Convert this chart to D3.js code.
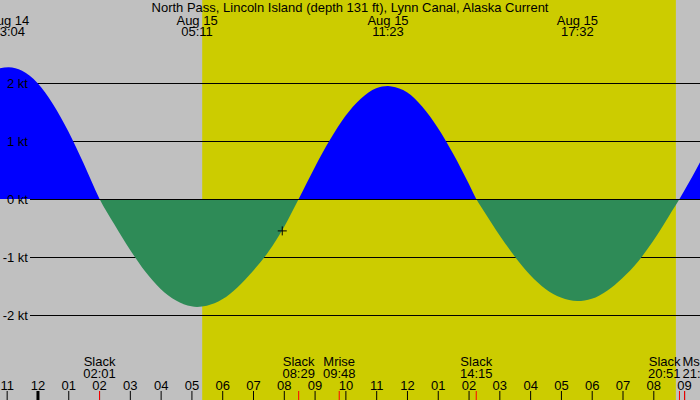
<!DOCTYPE html>
<html><head><meta charset="utf-8">
<script src="https://cdn.jsdelivr.net/npm/d3@7"></script>
<style>
html,body{margin:0;padding:0;background:#c0c0c0;}
svg{display:block;}
text{font-family:"Liberation Sans",Arial,Helvetica,sans-serif;font-size:13px;fill:#000;}
</style></head><body>
<svg id="chart" width="700" height="400"></svg>
<script>
const title = "North Pass, Lincoln Island (depth 131 ft), Lynn Canal, Alaska Current";
const viewStart = "2023-08-14 22:47", viewEnd = "2023-08-15 21:31";
const sunrise = "2023-08-15 05:21", sunset = "2023-08-15 20:44";

const flowTimes = [
  "2023-08-14 22:45","2023-08-14 23:04","2023-08-14 23:30","2023-08-15 00:00","2023-08-15 00:30",
  "2023-08-15 01:00","2023-08-15 01:30","2023-08-15 02:01","2023-08-15 02:30","2023-08-15 03:00",
  "2023-08-15 03:30","2023-08-15 04:00","2023-08-15 04:30","2023-08-15 05:00","2023-08-15 05:11",
  "2023-08-15 05:30","2023-08-15 06:00","2023-08-15 06:30","2023-08-15 07:00","2023-08-15 07:30",
  "2023-08-15 08:00","2023-08-15 08:29","2023-08-15 09:00","2023-08-15 09:30","2023-08-15 10:00",
  "2023-08-15 10:30","2023-08-15 11:00","2023-08-15 11:23","2023-08-15 11:30","2023-08-15 12:00",
  "2023-08-15 12:30","2023-08-15 13:00","2023-08-15 13:30","2023-08-15 14:00","2023-08-15 14:15",
  "2023-08-15 14:30","2023-08-15 15:00","2023-08-15 15:30","2023-08-15 16:00","2023-08-15 16:30",
  "2023-08-15 17:00","2023-08-15 17:32","2023-08-15 18:00","2023-08-15 18:30","2023-08-15 19:00",
  "2023-08-15 19:30","2023-08-15 20:00","2023-08-15 20:30","2023-08-15 20:51","2023-08-15 21:00",
  "2023-08-15 21:15","2023-08-15 21:35"];
const flowKnots = [
  2.25, 2.27, 2.21, 2.00, 1.64,
  1.17, 0.61, 0.00, -0.44, -0.87,
  -1.25, -1.55, -1.75, -1.85, -1.86,
  -1.84, -1.73, -1.52, -1.24, -0.91,
  -0.49, 0.00, 0.54, 1.02, 1.43,
  1.73, 1.91, 1.95, 1.94, 1.84,
  1.59, 1.23, 0.78, 0.27, 0.00,
  -0.21, -0.62, -0.99, -1.31, -1.55,
  -1.70, -1.76, -1.72, -1.58, -1.36,
  -1.08, -0.72, -0.30, 0.00, 0.14,
  0.37, 0.70];

const gridKnots = [-2, -1, 0, 1, 2];
const gridLabels = ["-2 kt", "-1 kt", "0 kt", "1 kt", "2 kt"];

const maxTimes = ["2023-08-14 23:04", "2023-08-15 05:11", "2023-08-15 11:23", "2023-08-15 17:32"];

const eventTimes = ["2023-08-15 02:01", "2023-08-15 08:29", "2023-08-15 09:48", "2023-08-15 14:15", "2023-08-15 20:51", "2023-08-15 21:01"];
const eventNames = ["Slack", "Slack", "Mrise", "Slack", "Slack", "Mset"];

const hourTicks = [
  "2023-08-14 23:00","2023-08-15 00:00","2023-08-15 01:00","2023-08-15 02:00","2023-08-15 03:00",
  "2023-08-15 04:00","2023-08-15 05:00","2023-08-15 06:00","2023-08-15 07:00","2023-08-15 08:00",
  "2023-08-15 09:00","2023-08-15 10:00","2023-08-15 11:00","2023-08-15 12:00","2023-08-15 13:00",
  "2023-08-15 14:00","2023-08-15 15:00","2023-08-15 16:00","2023-08-15 17:00","2023-08-15 18:00",
  "2023-08-15 19:00","2023-08-15 20:00","2023-08-15 21:00"];
const hourLabels = ["11","12","01","02","03","04","05","06","07","08","09","10","11","12","01","02","03","04","05","06","07","08","09"];

const nowTime = "2023-08-15 07:57", nowKnots = -0.55;

// ---------------------------------------------------------------
const parse = d3.timeParse("%Y-%m-%d %H:%M");
const W = 700, H = 400;
const svg = d3.select("#chart");

const x = d3.scaleTime().domain([parse(viewStart), parse(viewEnd)]).range([0, W]);
const y = d3.scaleLinear().domain([-2, 2]).range([315, 83]);

const flow = flowTimes.map((t, i) => ({t: parse(t), v: flowKnots[i]}));

// background and daylight
svg.append("rect").attr("x", 0).attr("y", 0).attr("width", W).attr("height", H).attr("fill", "#c0c0c0");
svg.append("rect")
  .attr("x", x(parse(sunrise))).attr("y", 0)
  .attr("width", x(parse(sunset)) - x(parse(sunrise))).attr("height", H)
  .attr("fill", "#cccc00");

// grid lines
svg.append("g").selectAll("line").data(gridKnots).join("line")
  .attr("x1", 30).attr("x2", W)
  .attr("y1", d => Math.round(y(d)) + 0.5).attr("y2", d => Math.round(y(d)) + 0.5)
  .attr("stroke", "#000").attr("stroke-width", 1);

// clip paths
const defs = svg.append("defs");
defs.append("clipPath").attr("id", "above").append("rect")
  .attr("x", 0).attr("y", 0).attr("width", W).attr("height", y(0));
defs.append("clipPath").attr("id", "below").append("rect")
  .attr("x", 0).attr("y", y(0)).attr("width", W).attr("height", H - y(0));

const area = d3.area()
  .x(d => x(d.t)).y0(y(0)).y1(d => y(d.v))
  .curve(d3.curveMonotoneX);

svg.append("path").datum(flow).attr("d", area).attr("fill", "#0000ff").attr("clip-path", "url(#above)");
svg.append("path").datum(flow).attr("d", area).attr("fill", "#2e8b57").attr("clip-path", "url(#below)");

// zero line over fills
svg.append("line").attr("x1", 30).attr("x2", W)
  .attr("y1", Math.round(y(0)) + 0.5).attr("y2", Math.round(y(0)) + 0.5)
  .attr("stroke", "#000");

// y labels
svg.append("g").selectAll("text").data(gridKnots).join("text")
  .attr("x", 28).attr("y", d => y(d)).attr("dy", "0.36em")
  .attr("text-anchor", "end")
  .text((d, i) => gridLabels[i]);

// title
svg.append("text").attr("x", 350).attr("y", 12).attr("text-anchor", "middle").text(title);

// max current labels at top
const fmtDate = d3.timeFormat("%b %d"), fmtTime = d3.timeFormat("%H:%M");
const topG = svg.append("g").selectAll("g").data(maxTimes.map(parse)).join("g")
  .attr("transform", d => `translate(${x(d)},0)`);
topG.append("text").attr("y", 24.5).attr("text-anchor", "middle").text(d => fmtDate(d));
topG.append("text").attr("y", 36).attr("text-anchor", "middle").text(d => fmtTime(d));

// event labels at bottom
const ev = eventTimes.map((t, i) => ({t: parse(t), name: eventNames[i]}));
ev.forEach(e => { e.x = x(e.t); e.anchor = "middle"; e.lx = e.x; });
for (let i = 0; i < ev.length - 1; i++) {
  if (ev[i + 1].x - ev[i].x < 25) {
    const mid = (ev[i].x + ev[i + 1].x) / 2;
    ev[i].anchor = "end"; ev[i].lx = mid - 1.5;
    ev[i + 1].anchor = "start"; ev[i + 1].lx = mid + 0.5;
  }
}
const evG = svg.append("g").selectAll("g").data(ev).join("g");
evG.append("text").attr("x", d => d.lx).attr("y", 366).attr("text-anchor", d => d.anchor).text(d => d.name);
evG.append("text").attr("x", d => d.lx).attr("y", 378).attr("text-anchor", d => d.anchor).text(d => fmtTime(d.t));

// hour axis
const axis = d3.axisTop(x)
  .tickValues(hourTicks.map(parse))
  .tickFormat((d, i) => hourLabels[i])
  .tickSize(9).tickPadding(1);
const ax = svg.append("g").attr("transform", `translate(0,${H})`).call(axis);
ax.select(".domain").remove();
ax.attr("font-family", null).attr("font-size", null);
ax.selectAll("text")
  .style("font-family", "'Liberation Sans',Arial,sans-serif").style("font-size", "13px").attr("fill", "#000");
ax.selectAll(".tick line").attr("stroke", "#000")
  .attr("stroke-width", d => d.getHours() === 0 ? 3 : 1);

// red event ticks
svg.append("g").selectAll("line").data(ev).join("line")
  .attr("x1", d => d.x).attr("x2", d => d.x)
  .attr("y1", 391).attr("y2", H)
  .attr("stroke", "#ff0000").attr("stroke-width", 1);

// current-time marker
const mx = x(parse(nowTime)), my = y(nowKnots);
svg.append("path")
  .attr("d", `M${mx - 4.5},${my}H${mx + 4.5}M${mx},${my - 4.5}V${my + 4.5}`)
  .attr("stroke", "#000").attr("stroke-width", 1).attr("fill", "none");
</script>
</body></html>
